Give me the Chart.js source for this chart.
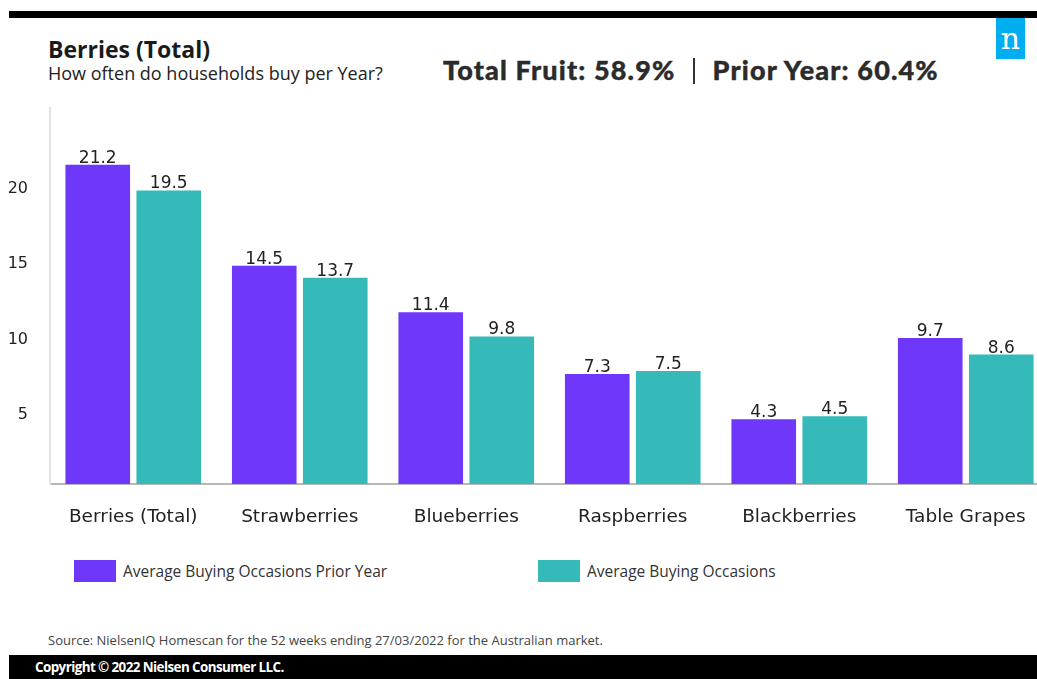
<!DOCTYPE html>
<html>
<head>
<meta charset="utf-8">
<script src="https://cdn.jsdelivr.net/npm/chart.js@4"></script>
<style>
  html, body { margin:0; padding:0; background:#fff; }
  body { width:1037px; height:679px; overflow:hidden; position:relative; font-family:"Open Sans", sans-serif; }
  .abs { position:absolute; white-space:nowrap; }
  #topbar { left:9px; top:11px; width:1028px; height:7px; background:#000; }
  #title { left:48px; top:34px; font-size:23px; font-weight:700; color:#1a1a1a; line-height:30px; }
  #subtitle { left:48px; top:61px; font-size:18px; color:#222; line-height:24px; }
  #headline { left:443px; top:52px; font-family:Lato, sans-serif; font-weight:900; font-size:27px; letter-spacing:1.15px; color:#2b2b2b; line-height:36px; -webkit-text-stroke:0.4px #2b2b2b; }
  #headline .sep { display:inline-block; width:2px; height:26px; background:#333; vertical-align:-4px; margin:0 18px 0 17px; }
  #logo { left:996px; top:18px; width:29px; height:41px; background:#00AEEF; color:#fff; font-family:"DejaVu Serif", "Liberation Serif", serif; font-size:30px; line-height:41px; text-align:center; }
  #chartwrap { left:0; top:76px; width:1049px; height:468px; }
  .leg { top:560px; height:22px; }
  .leg .sw { position:absolute; left:0; top:0; width:42px; height:22px; }
  .leg .tx { position:absolute; left:49px; top:1px; font-size:15.5px; color:#333; line-height:20px; }
  #source { left:48px; top:631px; font-size:13px; color:#444; line-height:18px; }
  #botbar { left:9px; top:655px; width:1028px; height:24px; background:#000; }
  #copy { left:35px; top:657px; font-size:14px; font-weight:700; color:#fff; line-height:20px; letter-spacing:-0.6px; transform:scaleX(0.957); transform-origin:left center; }
</style>
</head>
<body>
<div id="topbar" class="abs"></div>
<div id="title" class="abs">Berries (Total)</div>
<div id="subtitle" class="abs">How often do households buy per Year?</div>
<div id="headline" class="abs">Total Fruit: 58.9%<span class="sep"></span>Prior Year: 60.4%</div>
<div id="logo" class="abs">n</div>
<div id="chartwrap" class="abs"><canvas id="c" width="1049" height="468"></canvas></div>
<div id="legend"></div>
<div id="source" class="abs">Source: NielsenIQ Homescan for the 52 weeks ending 27/03/2022 for the Australian market.</div>
<div id="botbar" class="abs"></div>
<div id="copy" class="abs">Copyright © 2022 Nielsen Consumer LLC.</div>
<script>
const categories = ['Berries (Total)', 'Strawberries', 'Blueberries', 'Raspberries', 'Blackberries', 'Table Grapes'];
const priorYearValues = [21.2, 14.5, 11.4, 7.3, 4.3, 9.7];
const currentValues = [19.5, 13.7, 9.8, 7.5, 4.5, 8.6];
const seriesNames = ['Average Buying Occasions Prior Year', 'Average Buying Occasions'];
const seriesColors = ['#6E37FA', '#35B9B9'];
const yTickValues = [5, 10, 15, 20];
const yMax = 25;

const valueLabels = {
  id: 'valueLabels',
  afterDatasetsDraw(chart) {
    const ctx = chart.ctx;
    ctx.save();
    ctx.font = '17px "DejaVu Sans", Verdana, sans-serif';
    ctx.fillStyle = '#222';
    ctx.textAlign = 'center';
    ctx.textBaseline = 'alphabetic';
    chart.data.datasets.forEach((ds, i) => {
      chart.getDatasetMeta(i).data.forEach((bar, j) => {
        ctx.fillText(ds.data[j].toFixed(1), bar.x, bar.y - 2);
      });
    });
    ctx.restore();
  }
};

new Chart(document.getElementById('c'), {
  type: 'bar',
  data: {
    labels: categories,
    datasets: [
      { label: seriesNames[0], data: priorYearValues, backgroundColor: seriesColors[0], borderWidth: 0 },
      { label: seriesNames[1], data: currentValues, backgroundColor: seriesColors[1], borderWidth: 0 }
    ]
  },
  options: {
    responsive: false,
    animation: false,
    devicePixelRatio: 1,
    categoryPercentage: 0.853,
    barPercentage: 0.91,
    layout: { padding: { top: 9, left: 0, right: 0, bottom: 0 } },
    plugins: { legend: { display: false }, tooltip: { enabled: false } },
    scales: {
      x: {
        z: 1,
        grid: { display: false, drawTicks: false },
        border: { display: true, color: 'rgba(0,0,0,0.28)', width: 2 },
        ticks: { font: { family: '"DejaVu Sans", Verdana, sans-serif', size: 18.5 }, color: '#222', padding: 22, maxRotation: 0, autoSkip: false },
        afterFit(scale) { scale.height = 60; }
      },
      y: {
        min: 0, max: yMax,
        grid: { display: false, drawTicks: false },
        border: { display: true, color: '#e3e3e3', width: 2 },
        afterBuildTicks(scale) { scale.ticks = yTickValues.map(v => ({ value: v })); },
        ticks: { font: { family: '"DejaVu Sans", Verdana, sans-serif', size: 16 }, color: '#222', padding: 22, labelOffset: 6 },
        afterFit(scale) { scale.width = 50; }
      }
    }
  },
  plugins: [valueLabels]
});

// HTML legend from series arrays
const legendX = [74, 538];
const legend = document.getElementById('legend');
seriesNames.forEach((name, i) => {
  const d = document.createElement('div');
  d.className = 'abs leg';
  d.style.left = legendX[i] + 'px';
  d.innerHTML = '<div class="sw" style="background:' + seriesColors[i] + '"></div><div class="tx">' + name + '</div>';
  legend.appendChild(d);
});
</script>
</body>
</html>
